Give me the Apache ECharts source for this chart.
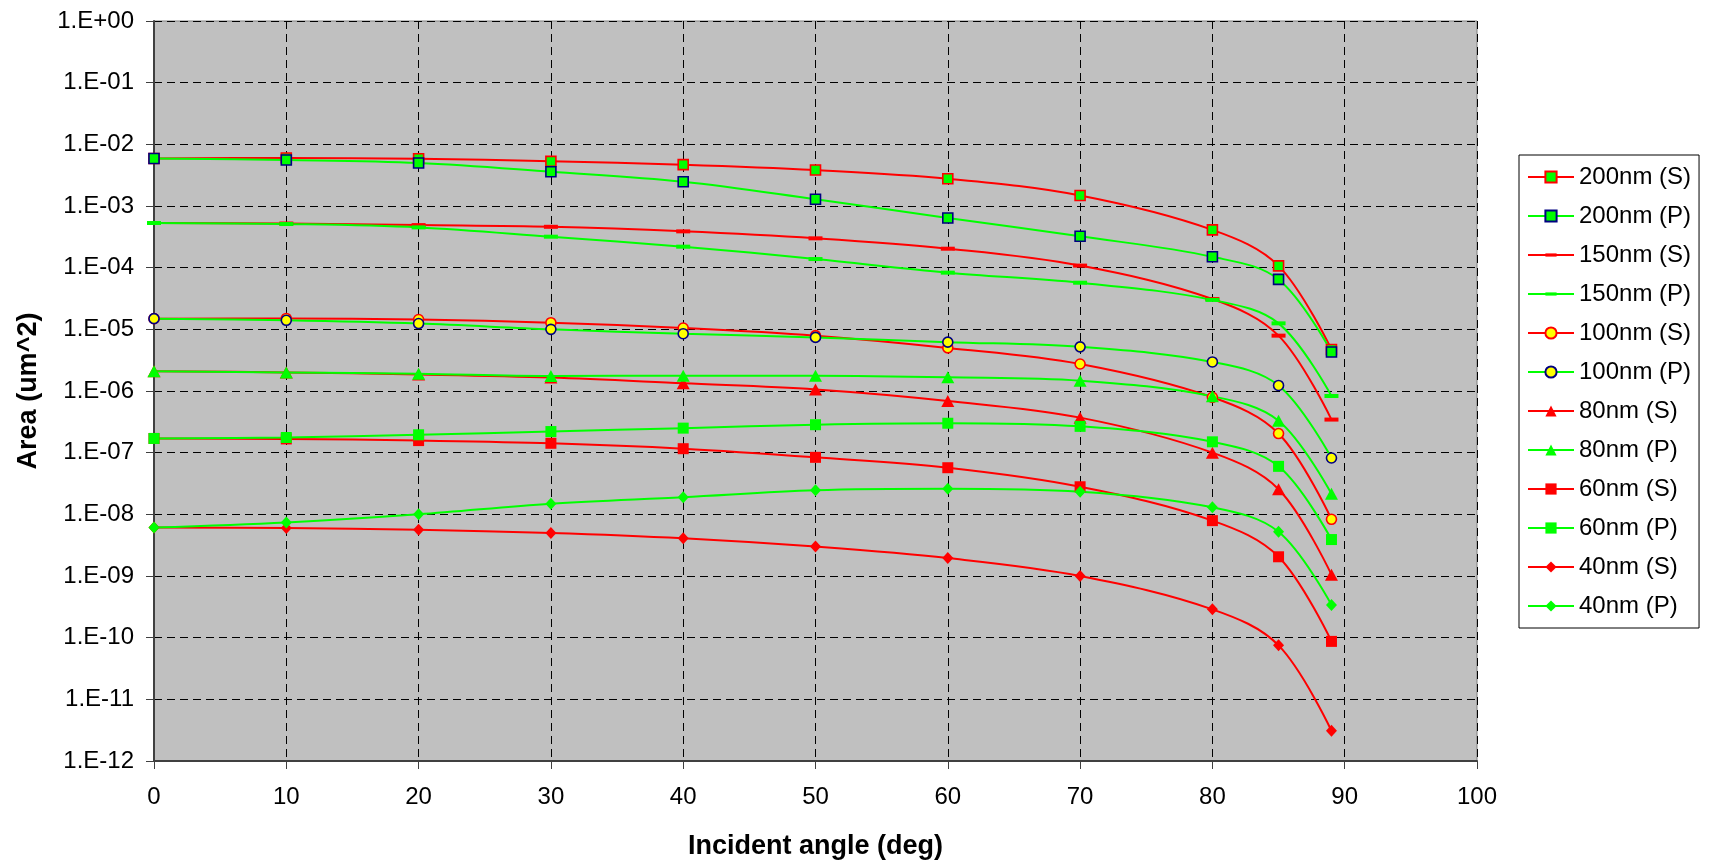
<!DOCTYPE html>
<html>
<head>
<meta charset="utf-8">
<script src="https://cdn.jsdelivr.net/npm/echarts@6/dist/echarts.min.js"></script>
<style>
html,body{margin:0;padding:0;background:#fff;}
#chart{width:1710px;height:860px;}
</style>
</head>
<body>
<div id="chart"></div>
<script>
// ---- data ----
const angles = [0, 10, 20, 30, 40, 50, 60, 70, 80, 85, 89];
const s200 = [5.9e-3, 6.0e-3, 5.85e-3, 5.3e-3, 4.68e-3, 3.83e-3, 2.77e-3, 1.48e-3, 4.1e-4, 1.07e-4, 4.7e-6];
const p200 = [5.9e-3, 5.57e-3, 4.98e-3, 3.6e-3, 2.48e-3, 1.29e-3, 6.4e-4, 3.23e-4, 1.5e-4, 6.45e-5, 4.3e-6];
const s150 = [5.3e-4, 5.2e-4, 4.9e-4, 4.6e-4, 3.88e-4, 2.99e-4, 2.03e-4, 1.08e-4, 3.1e-5, 7.9e-6, 3.44e-7];
const p150 = [5.3e-4, 5.1e-4, 4.5e-4, 3.18e-4, 2.19e-4, 1.38e-4, 8.3e-5, 5.7e-5, 3.0e-5, 1.25e-5, 8.3e-7];
const s100 = [1.49e-5, 1.5e-5, 1.44e-5, 1.28e-5, 1.05e-5, 7.9e-6, 5.0e-6, 2.74e-6, 7.9e-7, 2.04e-7, 8.3e-9];
const p100 = [1.49e-5, 1.4e-5, 1.24e-5, 1.0e-5, 8.5e-6, 7.4e-6, 6.2e-6, 5.2e-6, 2.96e-6, 1.23e-6, 8.2e-8];
const s80 = [2.1e-6, 2.0e-6, 1.85e-6, 1.65e-6, 1.33e-6, 1.06e-6, 6.9e-7, 3.7e-7, 1.0e-7, 2.55e-8, 1.05e-9];
const p80 = [2.1e-6, 2.0e-6, 1.9e-6, 1.75e-6, 1.77e-6, 1.77e-6, 1.67e-6, 1.47e-6, 8.2e-7, 3.3e-7, 2.15e-8];
const s60 = [1.7e-7, 1.67e-7, 1.57e-7, 1.42e-7, 1.16e-7, 8.4e-8, 5.7e-8, 2.8e-8, 7.9e-9, 2.05e-9, 8.7e-11];
const p60 = [1.7e-7, 1.76e-7, 1.95e-7, 2.2e-7, 2.5e-7, 2.84e-7, 3.0e-7, 2.67e-7, 1.5e-7, 6.0e-8, 3.9e-9];
const s40 = [6.1e-9, 6.0e-9, 5.6e-9, 5.0e-9, 4.1e-9, 3.0e-9, 1.95e-9, 1.0e-9, 2.88e-10, 7.5e-11, 3.1e-12];
const p40 = [6.1e-9, 7.4e-9, 1.0e-8, 1.49e-8, 1.9e-8, 2.46e-8, 2.6e-8, 2.33e-8, 1.3e-8, 5.2e-9, 3.4e-10];
const seriesNames = ['200nm (S)', '200nm (P)', '150nm (S)', '150nm (P)', '100nm (S)', '100nm (P)',
  '80nm (S)', '80nm (P)', '60nm (S)', '60nm (P)', '40nm (S)', '40nm (P)'];
const xTitle = 'Incident angle (deg)';
const yTitle = 'Area (um^2)';

// ---- styles ----
const RED = '#FF0000', GREEN = '#00FF00', NAVY = '#000080', YEL = '#FFFF00';
const DASH = 'path://M0,0M14,14M0,5L14,5L14,9L0,9Z';
const styles = [
  {line: RED, symbol: 'rect', size: 10, fill: GREEN, border: RED, bw: 1.6},
  {line: GREEN, symbol: 'rect', size: 10, fill: GREEN, border: NAVY, bw: 1.6},
  {line: RED, symbol: DASH, size: 14, fill: RED, border: RED, bw: 0},
  {line: GREEN, symbol: DASH, size: 14, fill: GREEN, border: GREEN, bw: 0},
  {line: RED, symbol: 'circle', size: 10, fill: YEL, border: RED, bw: 1.6},
  {line: GREEN, symbol: 'circle', size: 10, fill: YEL, border: NAVY, bw: 1.6},
  {line: RED, symbol: 'triangle', size: [13, 12], fill: RED, border: RED, bw: 0},
  {line: GREEN, symbol: 'triangle', size: [13, 12], fill: GREEN, border: GREEN, bw: 0},
  {line: RED, symbol: 'rect', size: 11, fill: RED, border: RED, bw: 0},
  {line: GREEN, symbol: 'rect', size: 11, fill: GREEN, border: GREEN, bw: 0},
  {line: RED, symbol: 'diamond', size: [11, 12], fill: RED, border: RED, bw: 0},
  {line: GREEN, symbol: 'diamond', size: [11, 12], fill: GREEN, border: GREEN, bw: 0}
];
const allData = [s200, p200, s150, p150, s100, p100, s80, p80, s60, p60, s40, p40];

function fmtExp(v) {
  const e = Math.round(Math.log10(v));
  const a = Math.abs(e);
  return '1.E' + (e < 0 ? '-' : '+') + (a < 10 ? '0' : '') + a;
}

const series = allData.map((arr, i) => {
  const st = styles[i];
  return {
    name: seriesNames[i],
    type: 'line',
    smooth: 0.35,
    data: angles.map((a, k) => [a, arr[k]]),
    symbol: st.symbol,
    symbolSize: st.size,
    showAllSymbol: true,
    lineStyle: {color: st.line, width: 2},
    itemStyle: {color: st.fill, borderColor: st.border, borderWidth: st.bw},
    emphasis: {disabled: true},
    animation: false
  };
});

const chart = echarts.init(document.getElementById('chart'), null, {renderer: 'canvas'});
chart.setOption({
  animation: false,
  textStyle: {fontFamily: 'Liberation Sans, Arial, sans-serif'},
  grid: {
    left: 154, top: 21, right: 233, bottom: 99,
    outerBoundsMode: 'none',
    containLabel: false,
    show: true, backgroundColor: '#C0C0C0', borderColor: '#808080', borderWidth: 1
  },
  legend: {
    orient: 'vertical',
    left: 1519, top: 155,
    padding: [10, 8, 10, 8],
    itemGap: 15,
    itemWidth: 46,
    itemHeight: 14,
    backgroundColor: '#FFFFFF',
    borderColor: '#000000',
    borderWidth: 1,
    textStyle: {fontSize: 24, lineHeight: 24, color: '#000', fontFamily: 'Liberation Sans, Arial, sans-serif'},
    data: seriesNames
  },
  xAxis: {
    type: 'value',
    min: 0, max: 100, interval: 10,
    name: xTitle,
    nameLocation: 'middle',
    nameGap: 72,
    nameTextStyle: {fontSize: 27, fontWeight: 'bold', color: '#000'},
    axisLine: {show: true, onZero: false, lineStyle: {color: '#404040', width: 2}},
    axisTick: {show: true, length: 8, lineStyle: {color: '#404040'}},
    axisLabel: {fontSize: 24, color: '#000', margin: 24},
    splitLine: {show: true, lineStyle: {color: '#000000', type: [8, 5], width: 1}}
  },
  yAxis: {
    type: 'log',
    logBase: 10,
    min: 1e-12, max: 1,
    interval: 1,
    splitNumber: 12,
    name: yTitle,
    nameLocation: 'middle',
    nameGap: 112,
    nameTextStyle: {fontSize: 27, fontWeight: 'bold', color: '#000'},
    axisLine: {show: true, onZero: false, lineStyle: {color: '#404040', width: 2}},
    axisTick: {show: true, length: 8, lineStyle: {color: '#404040'}},
    axisLabel: {fontSize: 24, color: '#000', margin: 20, formatter: fmtExp},
    splitLine: {show: true, lineStyle: {color: '#000000', type: [8, 5], width: 1}},
    minorTick: {show: false}
  },
  series: series
});
</script>
</body>
</html>
